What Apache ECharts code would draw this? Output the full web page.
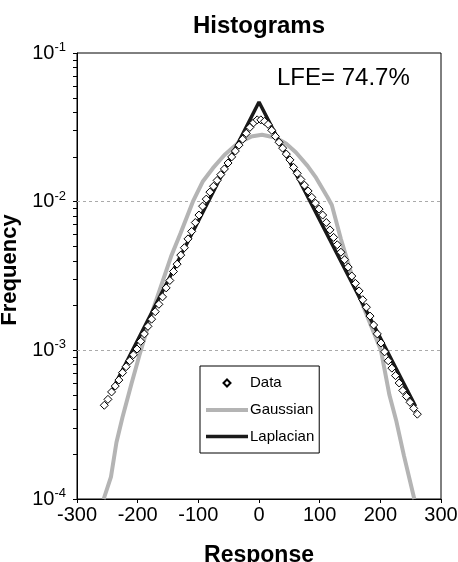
<!DOCTYPE html>
<html lang="en">
<head>
    <meta charset="UTF-8">
    <title>Histograms</title>
    <script type="text/javascript" src="https://cdn.jsdelivr.net/npm/echarts@6/dist/echarts.min.js"></script>
    <style>
        html, body { margin: 0; padding: 0; background: #fff; }
    </style>
</head>
<body>
    <div id="main" style="width: 458px;height:562px;"></div>
    <script type="text/javascript">
    // values
    var dataX = [-255, -249, -243, -237, -231, -225, -219, -213, -207, -201, -195, -189, -183, -177, -171,
        -165, -159, -153, -147, -141, -135, -129, -123, -117, -111, -105, -99, -93, -87, -81, -75, -69, -63,
        -57, -51, -45, -39, -33, -27, -21, -15, -9, -3, 3, 9, 15, 21, 27, 33, 39, 45, 51, 57, 63, 69, 75, 81,
        87, 93, 99, 105, 111, 117, 123, 129, 135, 141, 147, 153, 159, 165, 171, 177, 183, 189, 195, 201, 207,
        213, 219, 225, 231, 237, 243, 249, 255, 261];
    var dataY = [4.27e-4, 4.68e-4, 5.25e-4, 5.75e-4, 6.31e-4, 7.08e-4, 7.76e-4, 8.51e-4, 9.33e-4, 1.02e-3,
        1.15e-3, 1.29e-3, 1.45e-3, 1.62e-3, 1.82e-3, 2.04e-3, 2.29e-3, 2.63e-3, 2.95e-3, 3.39e-3,
        3.80e-3, 4.37e-3, 4.90e-3, 5.62e-3, 6.31e-3, 7.24e-3, 8.13e-3, 9.33e-3, 1.04e-2, 1.16e-2,
        1.27e-2, 1.39e-2, 1.52e-2, 1.66e-2, 1.82e-2, 2.00e-2, 2.19e-2, 2.40e-2, 2.63e-2, 2.88e-2,
        3.16e-2, 3.39e-2, 3.55e-2,
        3.55e-2, 3.47e-2, 3.31e-2, 3.02e-2, 2.75e-2, 2.51e-2, 2.29e-2, 2.09e-2, 1.91e-2, 1.70e-2,
        1.55e-2, 1.41e-2, 1.29e-2, 1.18e-2, 1.07e-2, 9.77e-3, 8.91e-3, 8.13e-3, 7.24e-3, 6.46e-3,
        5.75e-3, 5.13e-3, 4.57e-3, 4.07e-3, 3.63e-3, 3.16e-3, 2.82e-3, 2.51e-3, 2.19e-3, 1.95e-3,
        1.70e-3, 1.48e-3, 1.29e-3, 1.12e-3, 9.77e-4, 8.51e-4, 7.59e-4, 6.76e-4, 6.03e-4, 5.37e-4,
        4.90e-4, 4.47e-4, 4.07e-4, 3.72e-4];

    var gaussX = [-256, -244, -235, -225, -210, -197, -175, -145, -129, -109, -93, -76, -57, -35, -13, 5,
        28, 45, 61, 80, 94, 113, 120, 135, 157, 185, 201, 215, 226, 239, 256];
    var gaussY = [1.0e-4, 1.41e-4, 2.4e-4, 3.55e-4, 6.0e-4, 9.3e-4, 1.86e-3, 4.27e-3, 6.17e-3, 1.0e-2,
        1.36e-2, 1.68e-2, 2.06e-2, 2.47e-2, 2.74e-2, 2.82e-2, 2.69e-2, 2.45e-2, 2.14e-2, 1.74e-2,
        1.45e-2, 1.07e-2, 9.5e-3, 5.6e-3, 2.82e-3, 1.45e-3, 1.0e-3, 5.0e-4, 3.39e-4, 1.95e-4, 1.0e-4];

    var lapX = [-245, 0, 258];
    var lapY = [5.1e-4, 4.68e-2, 4.2e-4];

    var xTicks = [-300, -200, -100, 0, 100, 200, 300];
    var yTicks = [1e-4, 2e-4, 3e-4, 4e-4, 5e-4, 6e-4, 7e-4, 8e-4, 9e-4,
        1e-3, 2e-3, 3e-3, 4e-3, 5e-3, 6e-3, 7e-3, 8e-3, 9e-3,
        1e-2, 2e-2, 3e-2, 4e-2, 5e-2, 6e-2, 7e-2, 8e-2, 9e-2, 1e-1];
    var yLabels = [1e-4, 1e-3, 1e-2, 1e-1];
    var yGridLines = [1e-2, 1e-3];

    function pairs(xs, ys) {
        return xs.map(function(x, i) { return [x, ys[i]]; });
    }

    var font = 'Liberation Sans, Arial, sans-serif';
    var myChart = echarts.init(document.getElementById('main'));

    option = {
        animation: false,
        backgroundColor: '#fff',
        textStyle: { fontFamily: font, color: '#000' },
        title: {
            text: 'Histograms',
            left: 188,
            top: 9,
            textStyle: { fontSize: 24, fontWeight: 'bold', color: '#000', fontFamily: font }
        },
        graphic: [{
            type: 'text',
            left: 277,
            top: 66,
            style: { text: 'LFE= 74.7%', font: '24px ' + font, fill: '#000' }
        }],
        grid: {
            left: 77,
            right: 17,
            top: 53,
            bottom: 63,
            outerBoundsMode: 'none',
            containLabel: false,
            show: true,
            borderColor: '#000',
            borderWidth: 1
        },
        legend: {
            orient: 'vertical',
            left: 200,
            top: 366,
            padding: [9, 5, 9, 5],
            borderColor: '#000',
            borderWidth: 1,
            backgroundColor: '#fff',
            itemWidth: 42,
            itemHeight: 14,
            itemGap: 11.5,
            textStyle: { fontSize: 15, fontFamily: font, color: '#000', padding: [0, 0, 0, -3] },
            data: [{
                name: 'Data',
                icon: 'path://M0,0M42,14M21,3.5L24.5,7L21,10.5L17.5,7Z'
            }, {
                name: 'Gaussian',
                icon: 'path://M0,0M42,14M0,5L42,5L42,9L0,9Z'
            }, {
                name: 'Laplacian',
                icon: 'path://M0,0M42,14M0,5.2L42,5.2L42,8.8L0,8.8Z'
            }]
        },
        xAxis: {
            type: 'value',
            min: -300,
            max: 300,
            interval: 100,
            name: 'Response',
            nameLocation: 'middle',
            nameGap: 45,
            nameTextStyle: { fontSize: 23, fontWeight: 'bold', color: '#000', fontFamily: font },
            axisLine: { show: true, onZero: false, lineStyle: { color: '#000', width: 1 } },
            axisTick: { show: true, inside: false, length: 4, lineStyle: { color: '#000', width: 1 } },
            axisLabel: { fontSize: 20, color: '#000', margin: 6, fontFamily: font },
            splitLine: { show: false }
        },
        yAxis: {
            type: 'log',
            logBase: 10,
            min: 1e-4,
            max: 1e-1,
            interval: 1,
            name: 'Frequency',
            nameLocation: 'middle',
            nameGap: 50,
            nameTextStyle: {
                fontSize: 22, fontWeight: 'bold', color: '#000', fontFamily: font,
                padding: [0, 0, 0, 12]
            },
            axisLine: { show: true, onZero: false, lineStyle: { color: '#000', width: 1 } },
            axisTick: { show: true, inside: false, length: 4, lineStyle: { color: '#000', width: 1 }, customValues: yTicks },
            axisLabel: {
                margin: 11,
                customValues: yLabels,
                formatter: function(v) {
                    return '{b|10}{s|' + Math.round(Math.log10(v)) + '}';
                },
                rich: {
                    b: { fontSize: 20, color: '#000', fontFamily: font, lineHeight: 24 },
                    s: { fontSize: 13, color: '#000', fontFamily: font, verticalAlign: 'top', lineHeight: 24 }
                }
            },
            splitLine: { show: false }
        },
        series: [{
                name: 'Data',
                type: 'scatter',
                symbol: 'diamond',
                symbolSize: 8,
                z: 5,
                itemStyle: { color: '#fff', borderColor: '#000', borderWidth: 1, opacity: 1 },
                data: pairs(dataX, dataY)
            },
            {
                name: 'Gaussian',
                type: 'line',
                showSymbol: false,
                symbol: 'none',
                z: 2,
                itemStyle: { color: '#b4b4b4' },
                lineStyle: { color: '#b4b4b4', width: 4 },
                data: pairs(gaussX, gaussY),
                markLine: {
                    silent: true,
                    symbol: 'none',
                    z: 1,
                    label: { show: false },
                    lineStyle: { color: '#aaa', type: [3, 3], width: 1 },
                    data: yGridLines.map(function(v) {
                        return [{ coord: [xTicks[0], v] }, { coord: [xTicks[xTicks.length - 1], v] }];
                    })
                }
            },
            {
                name: 'Laplacian',
                type: 'line',
                showSymbol: false,
                symbol: 'none',
                z: 3,
                itemStyle: { color: '#1a1a1a' },
                lineStyle: { color: '#1a1a1a', width: 3.5 },
                data: pairs(lapX, lapY)
            }
        ]
    };

    myChart.setOption(option);
    </script>
</body>
</html>
